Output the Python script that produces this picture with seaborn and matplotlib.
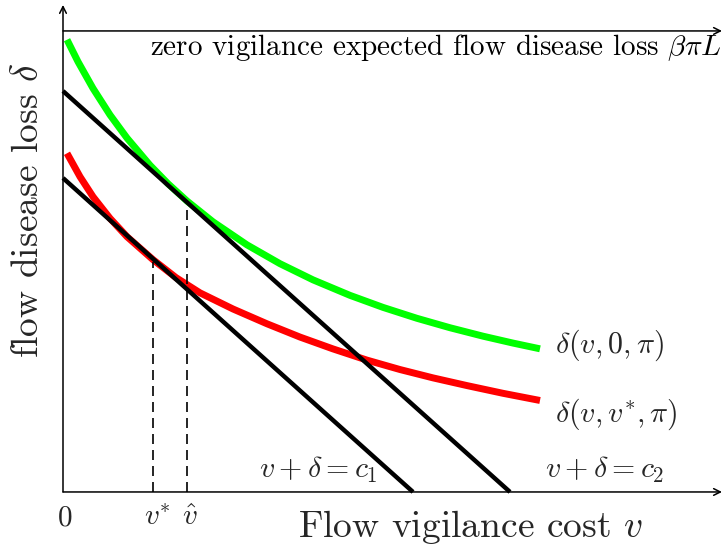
import matplotlib
matplotlib.use("Agg")
import matplotlib.pyplot as plt
import seaborn as sns
import pandas as pd

sns.set_theme(style="white")
plt.rcParams['font.family'] = ['cmr10', 'DejaVu Serif']
plt.rcParams['mathtext.fontset'] = 'cm'
plt.rcParams['axes.unicode_minus'] = False

# data
green_v = [0.04, 0.15, 0.30, 0.47, 0.64, 0.87, 1.05, 1.24, 1.50, 1.84, 2.17, 2.50,
           2.87, 3.20, 3.54, 3.87, 4.20, 4.50, 4.77]
green_d = [5.042, 4.797, 4.50, 4.204, 3.946, 3.643, 3.437, 3.244, 3.012, 2.755, 2.545,
           2.365, 2.192, 2.058, 1.936, 1.831, 1.737, 1.66, 1.596]
red_v = [0.04, 0.17, 0.30, 0.47, 0.64, 0.90, 1.13, 1.37, 1.70, 2.04, 2.37, 2.70,
         3.04, 3.37, 3.70, 4.04, 4.40, 4.77]
red_d = [3.776, 3.515, 3.292, 3.051, 2.846, 2.59, 2.39, 2.22, 2.04, 1.875, 1.727,
         1.595, 1.47, 1.365, 1.272, 1.186, 1.10, 1.02]
c_values = [3.50, 4.47]
v_star, v_hat = 0.90, 1.24
v_star_top, v_hat_top = 2.56, 3.20
beta_pi_L = 5.14
x_max, y_max = 6.59, 5.43

fig = plt.figure(figsize=(7.23, 5.5), dpi=100)
ax = fig.add_axes([0, 0, 1, 1])
ax.set_xlim(-0.63, 6.60)
ax.set_ylim(-0.647, 5.485)
ax.axis('off')

green_df = pd.DataFrame({'v': green_v, 'd': green_d})
red_df = pd.DataFrame({'v': red_v, 'd': red_d})
sns.lineplot(data=green_df, x='v', y='d', sort=False, color='#00ff00', lw=5.0,
             solid_joinstyle='round', solid_capstyle='butt', ax=ax)
sns.lineplot(data=red_df, x='v', y='d', sort=False, color='#ff0000', lw=5.0,
             solid_joinstyle='round', solid_capstyle='butt', ax=ax)
for c in c_values:
    ldf = pd.DataFrame({'v': [0, c], 'd': [c, 0]})
    sns.lineplot(data=ldf, x='v', y='d', sort=False, color='black', lw=3.2,
                 solid_capstyle='butt', ax=ax)

# dashed verticals
for vv, top in [(v_star, v_star_top), (v_hat, v_hat_top)]:
    ax.plot([vv, vv], [0, top], color='black', lw=1.2, dashes=(6, 3.6))

# axes with arrows
arrow = dict(arrowstyle='->', color='black', lw=1.1, mutation_scale=12, shrinkA=0, shrinkB=0)
ax.annotate('', xy=(x_max, 0), xytext=(0, 0), arrowprops=arrow)
ax.annotate('', xy=(0, y_max), xytext=(0, 0), arrowprops=arrow)
ax.annotate('', xy=(x_max, beta_pi_L), xytext=(0, beta_pi_L), arrowprops=arrow)

# texts
ax.text(6.585, 4.95, r'zero vigilance expected flow disease loss $\beta\pi L$',
        ha='right', va='center', fontsize=21, color='black')
ax.text(4.07, -0.39, r'Flow vigilance cost $v$', ha='center', va='center', fontsize=27)
ax.text(-0.35, 3.14, r'flow disease loss $\delta$', ha='center', va='center',
        rotation=90, fontsize=27)
ax.text(0.015, -0.29, r'$0$', ha='center', va='center', fontsize=21)
ax.text(0.94, -0.29, r'$v^{*}$', ha='center', va='center', fontsize=21)
ax.text(1.265, -0.29, r'$\hat{v}$', ha='center', va='center', fontsize=21)
ax.text(4.92, 1.63, r'$\delta(v,0,\pi)$', ha='left', va='center', fontsize=21.5)
ax.text(4.92, 0.87, r'$\delta(v,v^{*},\pi)$', ha='left', va='center', fontsize=21.5)
ax.text(3.15, 0.245, r'$v+\delta=c_1$', ha='right', va='center', fontsize=21.5)
ax.text(6.01, 0.245, r'$v+\delta=c_2$', ha='right', va='center', fontsize=21.5)

fig.savefig('out.png', dpi=100)
